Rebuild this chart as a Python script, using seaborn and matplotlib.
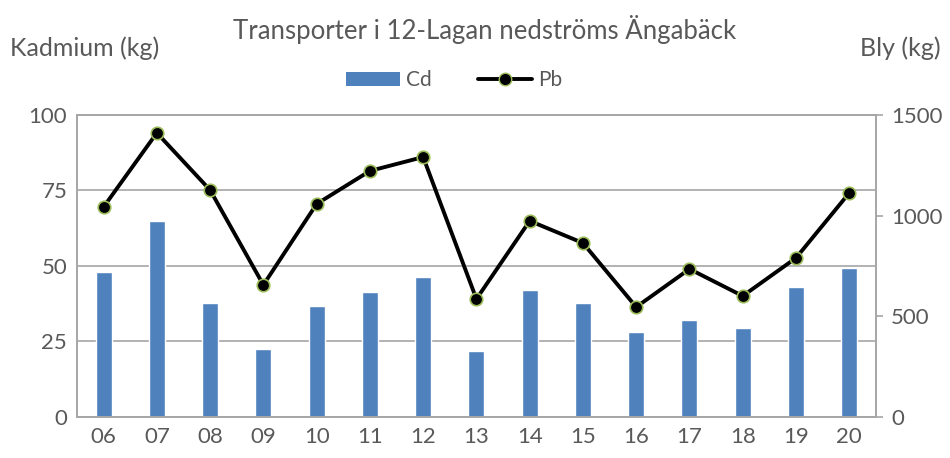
import numpy as np
import pandas as pd
import matplotlib
matplotlib.use('Agg')
import matplotlib.pyplot as plt
import seaborn as sns
from matplotlib.patches import Patch
from matplotlib.lines import Line2D

years = ['06', '07', '08', '09', '10', '11', '12', '13', '14', '15', '16', '17', '18', '19', '20']
cd = [48, 65, 37.7, 22.5, 36.8, 41.4, 46.4, 21.9, 42, 37.7, 28.1, 32.1, 29.5, 43, 49.3]
pb = [1043, 1411, 1127, 656, 1058, 1222, 1291, 586, 974, 864, 546, 735, 601, 790, 1113]

bar_color = '#4F81BD'
text_color = '#595959'
grid_color = '#A6A6A6'

sns.set_style('white')
plt.rcParams['font.family'] = ['Lato', 'DejaVu Sans']

df = pd.DataFrame({'year': years, 'Cd': cd, 'Pb': pb})

fig = plt.figure(figsize=(9.5, 4.58), dpi=100)
ax = fig.add_axes([0.081, 0.0895, 0.841, 0.6595])

sns.barplot(data=df, x='year', y='Cd', color=bar_color, width=0.3,
            saturation=1, ax=ax, zorder=2)
ax.set_xlim(-0.5, len(years) - 0.5)
ax.set_ylim(0, 100)
ax.set_yticks([0, 25, 50, 75, 100])
ax.yaxis.grid(True, color=grid_color, linewidth=1.2, zorder=0)
ax.set_axisbelow(True)
ax.set_xlabel('')
ax.set_ylabel('')
ax.tick_params(axis='both', colors=text_color, labelsize=16, length=0, pad=7)
for s in ax.spines.values():
    s.set_color(grid_color)
    s.set_linewidth(1.2)

ax2 = ax.twinx()
sns.lineplot(x=np.arange(len(years)), y=pb, ax=ax2, color='black', linewidth=2.8,
             marker='o', markersize=9, markerfacecolor='black',
             markeredgecolor='#9BBB59', markeredgewidth=1.2, zorder=3)
ax2.set_ylim(0, 1500)
ax2.set_yticks([0, 500, 1000, 1500])
ax2.tick_params(axis='y', colors=text_color, labelsize=16, length=5, width=1.2, pad=6)
ax2.tick_params(axis='y', color=grid_color)
for s in ax2.spines.values():
    s.set_color(grid_color)
    s.set_linewidth(1.2)
ax2.set_ylabel('')
ax2.grid(False)

fig.text(0.51, 0.935, 'Transporter i 12-Lagan nedströms Ängabäck', ha='center', va='center',
         fontsize=18.5, color=text_color)
fig.text(0.01, 0.895, 'Kadmium (kg)', ha='left', va='center', fontsize=18, color=text_color)
fig.text(0.99, 0.895, 'Bly (kg)', ha='right', va='center', fontsize=18, color=text_color)

handles = [Patch(facecolor=bar_color, edgecolor='none'),
           Line2D([0], [0], color='black', linewidth=2.8, marker='o', markersize=9,
                  markerfacecolor='black', markeredgecolor='#9BBB59')]
leg = fig.legend(handles, ['Cd', 'Pb'], loc='center', bbox_to_anchor=(0.478, 0.825), ncol=2,
                 frameon=False, fontsize=15, handlelength=2.6, columnspacing=2.2,
                 handletextpad=0.3, labelcolor=text_color)

fig.savefig('out.png', dpi=100)
